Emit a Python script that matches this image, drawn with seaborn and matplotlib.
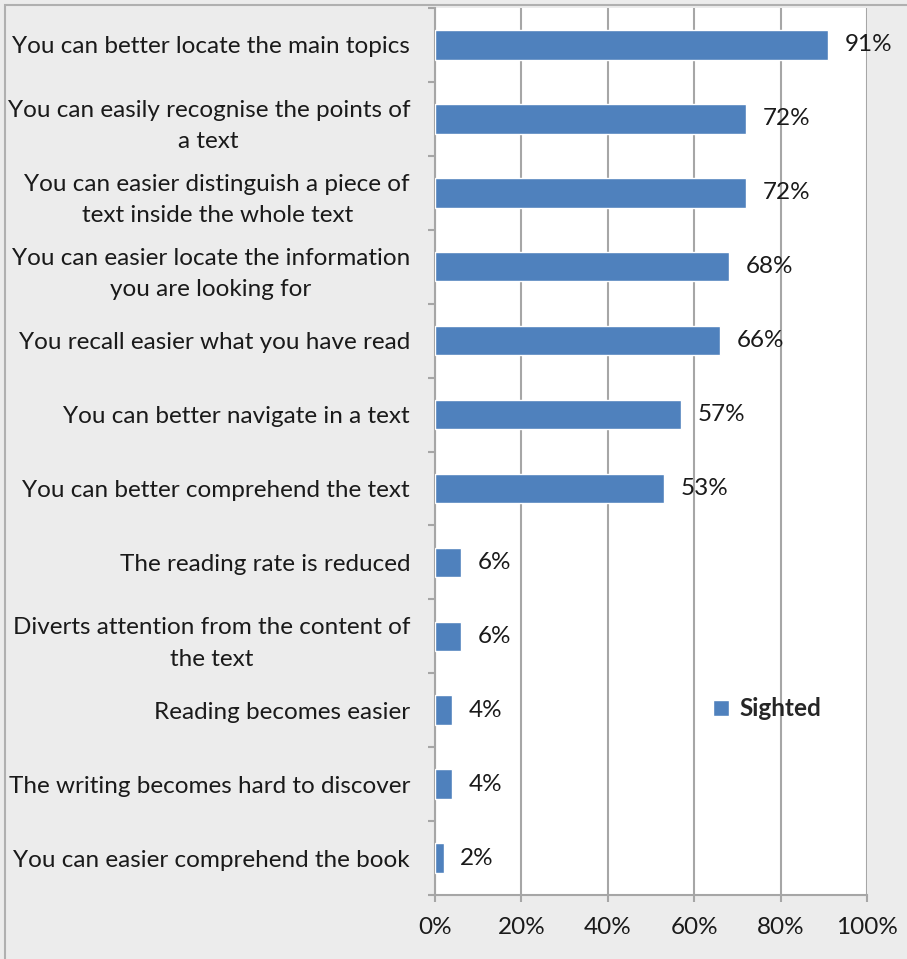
import matplotlib
matplotlib.use("Agg")
import matplotlib.pyplot as plt
from matplotlib.patches import Patch, Rectangle
from matplotlib.ticker import FixedLocator, PercentFormatter
import pandas as pd
import seaborn as sns

# Survey answers (sighted readers) and share of respondents, in percent
categories = [
    "You can better locate the main topics",
    "You can easily recognise the points of\na text",
    "You can easier distinguish a piece of\ntext inside the whole text",
    "You can easier locate the information\nyou are looking for",
    "You recall easier what you have read",
    "You can better navigate in a text",
    "You can better comprehend the text",
    "The reading rate is reduced",
    "Diverts attention from the content of\nthe text",
    "Reading becomes easier",
    "The writing becomes hard to discover",
    "You can easier comprehend the book",
]
sighted = [91, 72, 72, 68, 66, 57, 53, 6, 6, 4, 4, 2]
x_ticks = [0, 20, 40, 60, 80, 100]
series_name = "Sighted"

df = pd.DataFrame({"answer": categories, "share": sighted})

sns.set_theme(style="white")
plt.rcParams["font.family"] = ["Lato", "DejaVu Sans"]

BLUE = "#4f81bd"
GRID = "#a6a6a6"
TEXT = "#1a1a1a"
FS = 17.5

fig = plt.figure(figsize=(9.07, 9.59), dpi=100, facecolor="#ececec")
ax = fig.add_axes([435 / 907, 1 - 895 / 959, 432 / 907, 887 / 959])
ax.set_facecolor("white")

sns.barplot(data=df, y="answer", x="share", orient="h", color=BLUE,
            width=0.4, saturation=1, ax=ax, zorder=3)

ax.set_xlim(0, 100)
ax.set_ylim(len(categories) - 0.5, -0.5)
ax.set_xlabel("")
ax.set_ylabel("")

# vertical gridlines
ax.xaxis.set_major_locator(FixedLocator(x_ticks))
ax.xaxis.set_major_formatter(PercentFormatter(decimals=0))
ax.grid(axis="x", color=GRID, lw=1.5, zorder=1)
ax.set_axisbelow(True)

# category boundary ticks on the value axis side
ax.yaxis.set_minor_locator(FixedLocator([i - 0.5 for i in range(len(categories) + 1)]))
ax.tick_params(axis="y", which="major", length=0, pad=18, labelsize=FS, labelcolor=TEXT)
ax.tick_params(axis="y", which="minor", left=True, length=5, width=1.5, color=GRID)
ax.tick_params(axis="x", which="major", bottom=True, length=5, width=1.5, color=GRID,
               pad=11, labelsize=FS, labelcolor=TEXT)
for lab in ax.get_yticklabels():
    lab.set_multialignment("center")
    lab.set_linespacing(1.62)

for side in ["top", "right"]:
    ax.spines[side].set_visible(False)
for side in ["left", "bottom"]:
    ax.spines[side].set_color(GRID)
    ax.spines[side].set_linewidth(1.5)

# value labels
ax.bar_label(ax.containers[0], labels=[f"{v}%" for v in sighted],
             padding=12, fontsize=FS, color=TEXT)

ax.legend(handles=[Patch(facecolor=BLUE, label=series_name)],
          loc="center left", bbox_to_anchor=(0.615, 0.21), frameon=False,
          borderpad=0, handlelength=0.65, handleheight=0.65, handletextpad=0.45,
          prop={"size": FS, "weight": "bold"})

# outer chart border (top and left visible)
fig.patches.append(Rectangle((5 / 907, -0.1), 1.2, 1.1 - 5 / 959, transform=fig.transFigure,
                             facecolor="none", edgecolor="#b0b0b0", lw=1.5, zorder=0))

fig.savefig("out.png", dpi=100, facecolor=fig.get_facecolor())
